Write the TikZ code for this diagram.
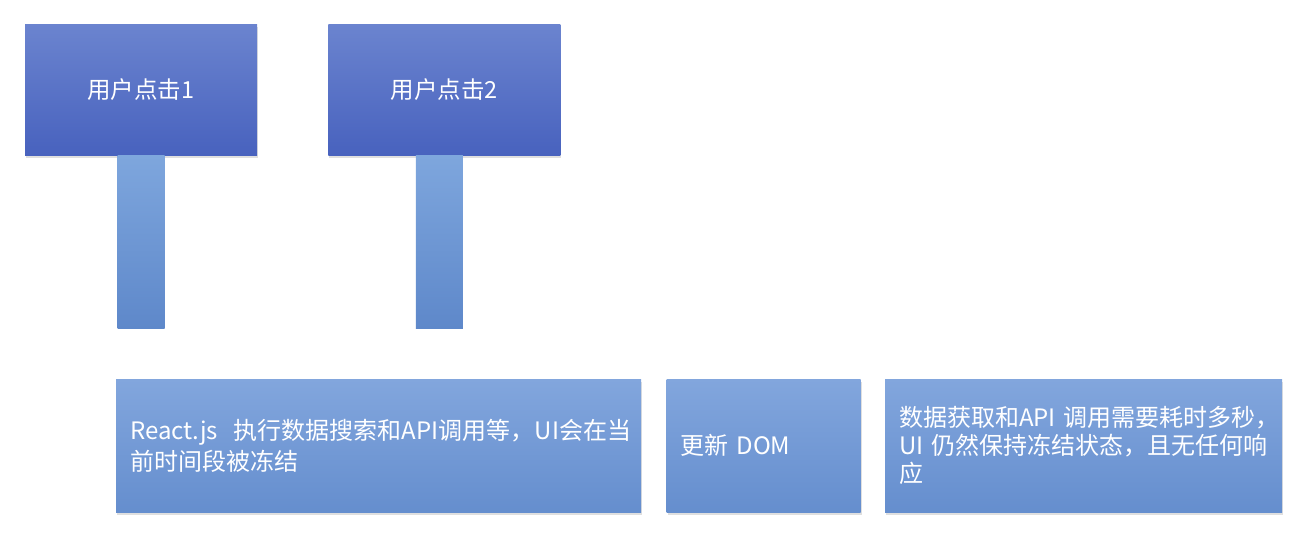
\documentclass[tikz,border=0pt]{standalone}
\usepackage{fontspec}
\setmainfont{Noto Sans CJK SC}
\usetikzlibrary{positioning, shadows}

\definecolor{clickTop}{HTML}{6B84CF}
\definecolor{clickBottom}{HTML}{4862BE}
\definecolor{waitTop}{HTML}{7EA6DD}
\definecolor{waitBottom}{HTML}{5E88CA}
\definecolor{taskTop}{HTML}{82A6DD}
\definecolor{taskBottom}{HTML}{658ECE}

\begin{document}
\begin{tikzpicture}[x=1pt, y=-1pt, node distance=25pt,
        click/.style={rectangle, minimum width=232pt, minimum height=131pt, inner sep=0pt,
            top color=clickTop, bottom color=clickBottom, text=white,
            font=\fontsize{23.5}{28}\selectfont,
            drop shadow={shadow xshift=1pt, shadow yshift=-3pt, opacity=0.25}},
        wait/.style={rectangle, minimum width=47pt, minimum height=173pt, inner sep=0pt,
            top color=waitTop, bottom color=waitBottom},
        task/.style={rectangle, minimum height=133pt, inner xsep=14pt, inner ysep=0pt,
            align=left, top color=taskTop, bottom color=taskBottom, text=white,
            font=\fontsize{24}{28}\selectfont,
            drop shadow={shadow xshift=1pt, shadow yshift=-3pt, opacity=0.25}}]

      \useasboundingbox (0,0) rectangle (1298,538);

      % User clicks
      \node[click] (click1) at (141,89.5) {用户点击1};
      \node[click, right=71pt of click1] (click2) {用户点击2};

      % Waiting bars
      \node[wait, below=0pt of click1] (wait1) {};
      \node[wait, below=0pt of click2, xshift=-5pt] (wait2) {};

      % Tasks
      \node[task, text width=497pt, anchor=north west, font=\fontsize{24}{31}\selectfont]
        (search) at (116,379)
        {React.js~~执行数据搜索和API调用等，UI会在当\\前时间段被冻结};
      \node[task, text width=166pt, right=of search] (updateDom) {更新 DOM};
      \node[task, text width=369pt, right=24pt of updateDom] (frozen)
        {数据获取和API~调用需要耗时多秒，\\UI~仍然保持冻结状态，且无任何响\\应};

    \end{tikzpicture}
\end{document}
